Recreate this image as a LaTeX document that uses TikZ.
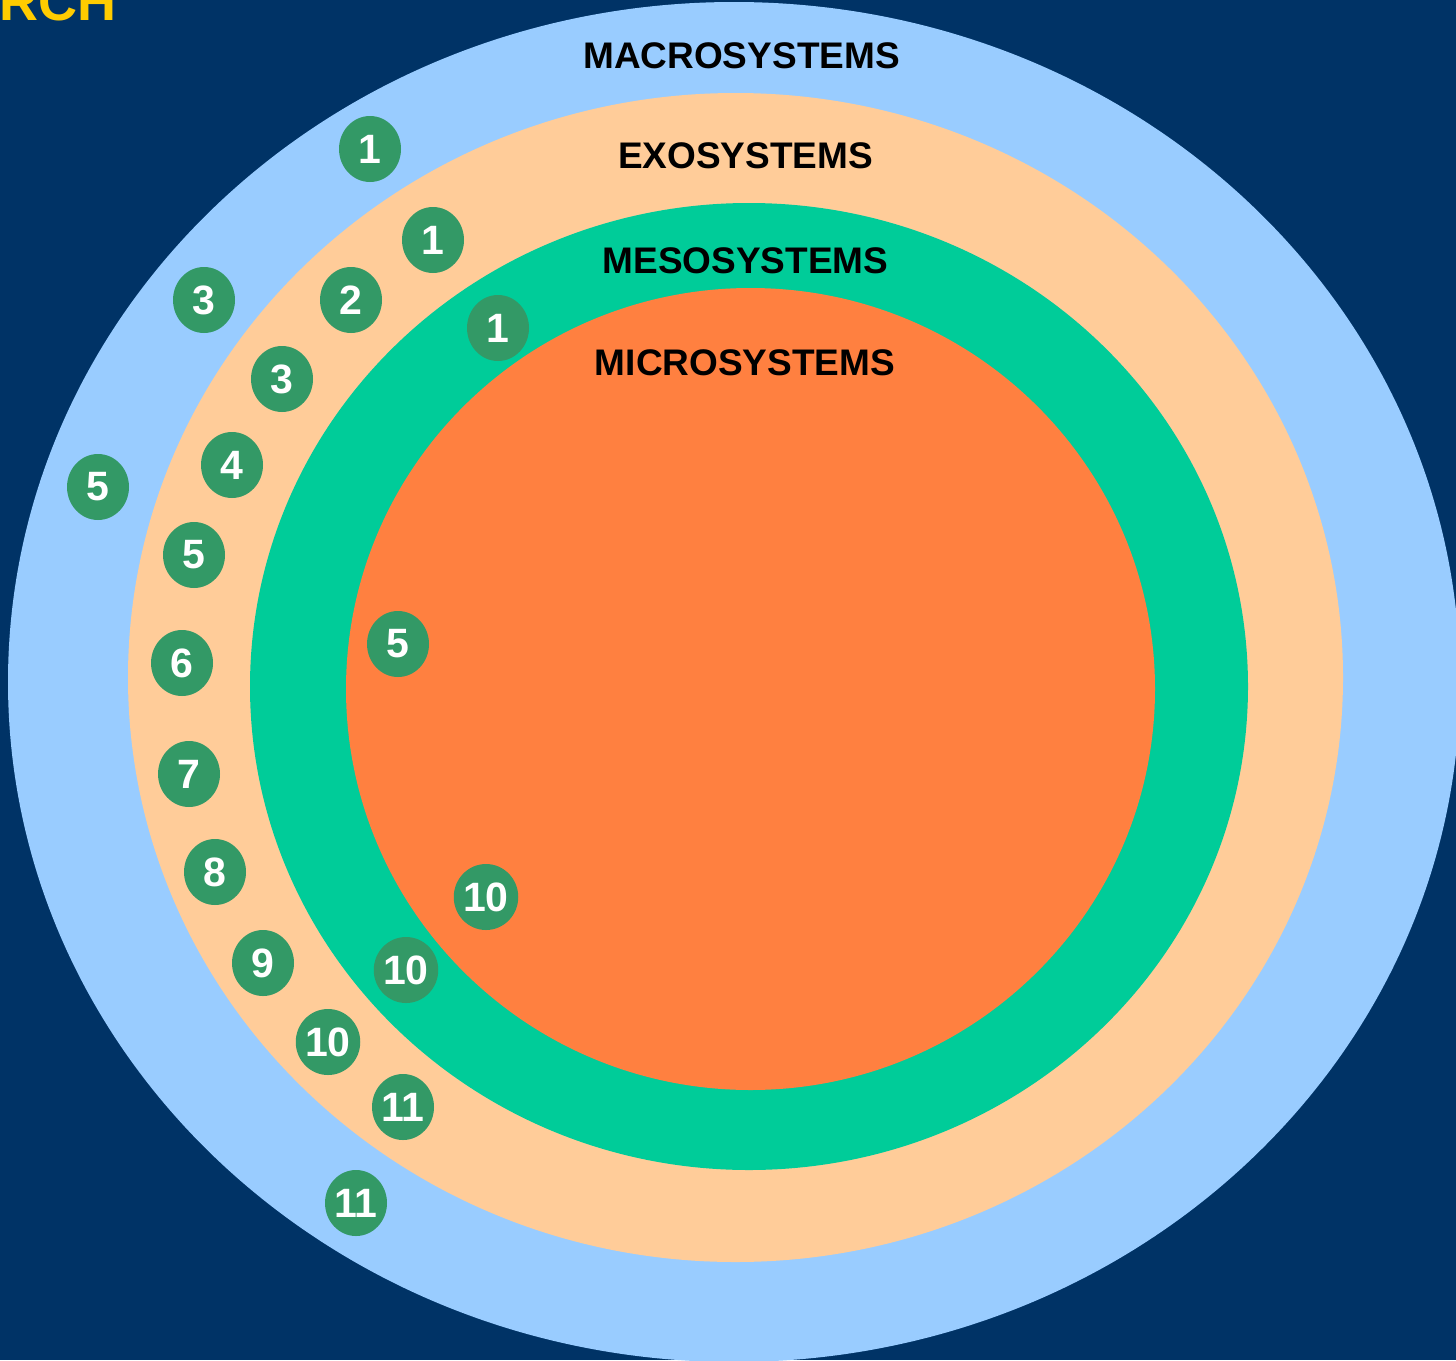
\documentclass[tikz,border=0pt]{standalone}
\usepackage{fontspec}
\setmainfont{Liberation Sans}
\usetikzlibrary{shapes.geometric}

\definecolor{navy}{HTML}{003366}
\definecolor{macroblue}{HTML}{99CCFF}
\definecolor{exopeach}{HTML}{FFCC99}
\definecolor{mesogreen}{HTML}{00CC99}
\definecolor{microorange}{HTML}{FF8040}
\definecolor{markgreen}{HTML}{339966}
\definecolor{titleyellow}{HTML}{FFCC00}

\tikzset{
  layerlabel/.style={anchor=base, inner sep=0pt, font=\fontsize{37}{37}\selectfont\bfseries, text=black},
  marker/.style={ellipse, fill=markgreen, draw=none, minimum width=62pt, minimum height=66pt,
    inner sep=0pt, text=white, font=\fontsize{41}{41}\selectfont\bfseries},
}

\begin{document}
\begin{tikzpicture}[x=1pt, y=-1pt]
  \useasboundingbox (0,0) rectangle (1456,1360);
  \clip (0,0) rectangle (1456,1360);
  \fill[navy] (0,0) rectangle (1456,1360);

  % heading fragment at the top edge
  \node[anchor=base east, inner sep=0pt, text=titleyellow,
        font=\fontsize{54}{54}\selectfont\bfseries]
        (heading) at (117,20) {RCH};

  % nested system layers
  \fill[macroblue]   (734,682)     ellipse [x radius=726, y radius=680];
  \fill[exopeach]    (735.5,677.5) ellipse [x radius=607.5, y radius=584.5];
  \fill[mesogreen]   (749,686.5)   ellipse [x radius=499, y radius=483.5];
  \fill[microorange] (750.5,689)   ellipse [x radius=404.5, y radius=401];

  % layer names
  \node[layerlabel] (macro) at (741.5,68)  {MACROSYSTEMS};
  \node[layerlabel] (exo)   at (745.5,168) {EXOSYSTEMS};
  \node[layerlabel] (meso)  at (745.5,273) {MESOSYSTEMS};
  \node[layerlabel] (micro) at (745,375)   {MICROSYSTEMS};

  % numbered markers
  \node[marker] (m1a)  at (370,149)  {1};
  \node[marker] (m1b)  at (433,240)  {1};
  \node[marker] (m1c)  at (498,328)  {1};
  \node[marker] (m2)   at (351,300)  {2};
  \node[marker] (m3a)  at (204,300)  {3};
  \node[marker] (m3b)  at (282,379)  {3};
  \node[marker] (m4)   at (232,465)  {4};
  \node[marker] (m5a)  at (98,487)   {5};
  \node[marker] (m5b)  at (194,555)  {5};
  \node[marker] (m5c)  at (398,644)  {5};
  \node[marker] (m6)   at (182,663)  {6};
  \node[marker] (m7)   at (189,774)  {7};
  \node[marker] (m8)   at (215,872)  {8};
  \node[marker] (m9)   at (263,963)  {9};
  \node[marker] (m10a) at (486,897)  {10};
  \node[marker] (m10b) at (406,970)  {10};
  \node[marker] (m10c) at (328,1042) {10};
  \node[marker] (m11a) at (403,1107) {11};
  \node[marker] (m11b) at (356,1203) {11};
\end{tikzpicture}
\end{document}
